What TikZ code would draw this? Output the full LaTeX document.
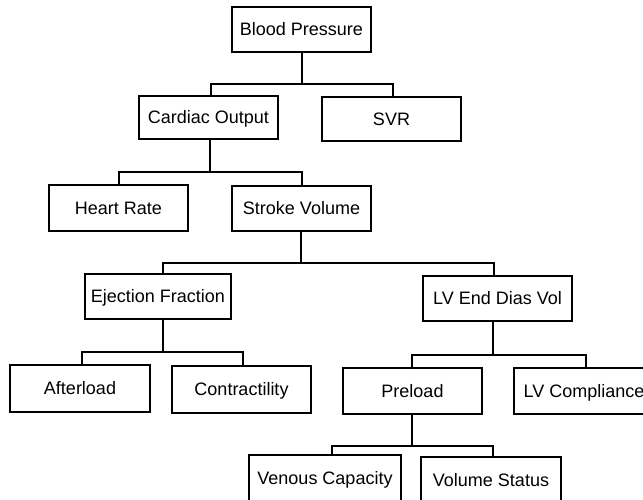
\documentclass[tikz,border=0pt]{standalone}
\usepackage{fontspec}
\setmainfont{Liberation Sans}
\begin{document}
\begin{tikzpicture}[x=1pt,y=-1pt,
  bx/.style={draw=black,line width=1.1pt,inner sep=0pt,
    font=\fontsize{18}{21}\selectfont,text height=12.9pt,text depth=0pt,
    minimum width=139pt,minimum height=45pt},
  con/.style={draw=black,line width=1.1pt}]
\useasboundingbox (0,0) rectangle (643,500);
\fill[white] (0,0) rectangle (643,500);
\clip (0,0) rectangle (643,500);
% nodes
\node[bx] (BP) at (301.5,29.5) {Blood Pressure};
\node[bx,minimum height=43pt] (CO) at (208.5,117.5) {Cardiac Output};
\node[bx,minimum height=44pt] (SVR) at (391.5,119) {SVR};
\node[bx,minimum height=46pt] (HR) at (118.5,208) {Heart Rate};
\node[bx] (SV) at (301.5,208.5) {Stroke Volume};
\node[bx,minimum width=146pt] (EF) at (158,296.5) {Ejection Fraction};
\node[bx,minimum width=149pt] (LVEDV) at (497.5,298.5) {LV End Dias Vol};
\node[bx,minimum width=140pt,minimum height=47pt] (AL) at (80,388.5) {Afterload};
\node[bx,minimum height=47pt] (CT) at (241.5,389.5) {Contractility};
\node[bx,minimum height=46pt] (PL) at (412.5,391) {Preload};
\node[bx,minimum width=140pt,minimum height=46pt] (LVC) at (584,391) {LV Compliance};
\node[bx,minimum width=152pt,minimum height=46pt] (VC) at (325,478) {Venous Capacity};
\node[bx,minimum width=140pt,minimum height=46pt] (VS) at (491,480) {Volume Status};
% junctions
\coordinate (j1) at (302,84);
\coordinate (j2) at (210,172);
\coordinate (j3) at (301,263);
\coordinate (j4) at (163,352);
\coordinate (j5) at (493,355);
\coordinate (j6) at (412,446);
% connectors
\path[con] (BP.south -| j1) -- (j1);
\path[con] ([xshift=2.5pt]CO.north) |- (j1) -| ([xshift=1.5pt]SVR.north);
\path[con] (CO.south -| j2) -- (j2);
\path[con] ([xshift=0.5pt]HR.north) |- (j2) -| ([xshift=0.5pt]SV.north);
\path[con] (SV.south -| j3) -- (j3);
\path[con] ([xshift=5pt]EF.north) |- (j3) -| ([xshift=-3.5pt]LVEDV.north);
\path[con] (EF.south -| j4) -- (j4);
\path[con] ([xshift=2pt]AL.north) |- (j4) -| ([xshift=1.5pt]CT.north);
\path[con] (LVEDV.south -| j5) -- (j5);
\path[con] ([xshift=-0.5pt]PL.north) |- (j5) -| ([xshift=2pt]LVC.north);
\path[con] (PL.south -| j6) -- (j6);
\path[con] ([xshift=7pt]VC.north) |- (j6) -| ([xshift=2pt]VS.north);
\end{tikzpicture}
\end{document}
